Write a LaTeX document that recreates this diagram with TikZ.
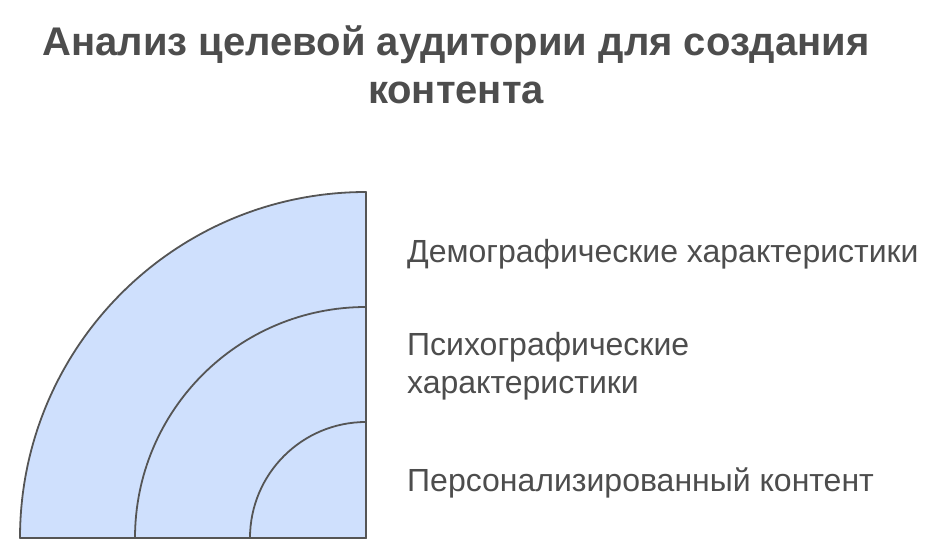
\documentclass[tikz,border=0pt]{standalone}
\usepackage{fontspec}
\setmainfont{Liberation Sans}
\definecolor{ringblue}{HTML}{CFE0FD}
\definecolor{linegrey}{HTML}{555555}
\definecolor{textgrey}{HTML}{4D4D4D}
\tikzset{
  ring/.style={fill=ringblue, draw=linegrey, line width=1.8pt, line join=round},
  lbl/.style={anchor=base west, inner sep=0pt, text=textgrey, font=\fontsize{32}{38}\selectfont, align=left}
}

\begin{document}
\begin{tikzpicture}[x=1pt,y=1pt]
      \useasboundingbox (0,0) rectangle (942,558);
      % title
      \node[anchor=base, inner sep=0pt, text=textgrey, font=\bfseries\fontsize{40}{48}\selectfont, align=center] (title) at (456,454)
            {Анализ целевой аудитории для создания\\контента};
      % rings, from outside in
      \coordinate (o) at (366,20);
      \draw[ring] (o) -- (20,20) arc[start angle=180, end angle=90, radius=346] -- cycle;
      \draw[ring] (o) -- (135,20) arc[start angle=180, end angle=90, radius=231] -- cycle;
      \draw[ring] (o) -- (250,20) arc[start angle=180, end angle=90, radius=116] -- cycle;
      % labels
      \node[lbl] (demo) at (407,296) {Демографические характеристики};
      \node[lbl] (psych) at (407,165) {Психографические\\характеристики};
      \node[lbl] (pers) at (407,67) {Персонализированный контент};
\end{tikzpicture}
\end{document}
